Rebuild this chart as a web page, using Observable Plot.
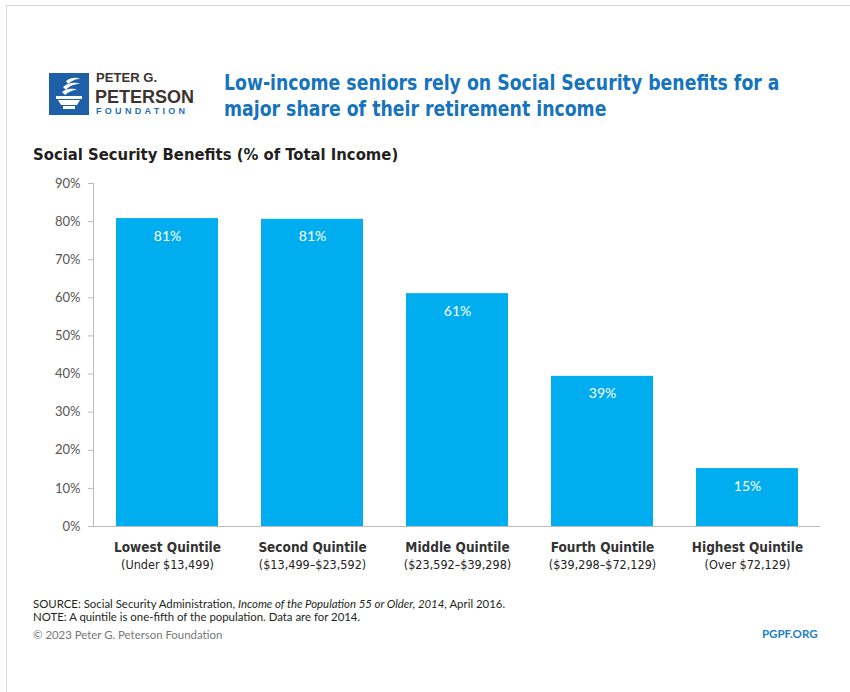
<!DOCTYPE html>
<html>
<head>
<meta charset="utf-8">
<script src="https://cdn.jsdelivr.net/npm/d3@7"></script>
<script src="https://cdn.jsdelivr.net/npm/@observablehq/plot@0.6"></script>
<style>
  html, body { margin: 0; padding: 0; background: #fff; }
  body { width: 850px; height: 692px; position: relative; overflow: hidden; }
  .frame { position: absolute; left: 6px; top: 5px; width: 860px; height: 700px; border-left: 1px solid #d8d8d8; border-top: 1px solid #d8d8d8; }
  .narrow { font-family: "Liberation Sans Narrow", "DejaVu Sans Condensed", sans-serif; }
  #logo { position: absolute; left: 49px; top: 73px; }
  .lt { position: absolute; font-family: "Liberation Sans", Arial, sans-serif; font-weight: bold; color: #3b3431; white-space: nowrap; line-height: 1; transform-origin: 0 0; }
  #title { position: absolute; left: 224px; top: 70px; font-size: 21.5px; line-height: 26px; font-weight: bold; color: #1673bd; white-space: nowrap; transform: scaleX(0.895); transform-origin: 0 0; }
  #subtitle { position: absolute; left: 33px; top: 145px; font-size: 16.5px; font-weight: bold; color: #231f20; white-space: nowrap; }
  #chart { position: absolute; left: 0; top: 170px; }
  .foot { position: absolute; left: 33px; font-family: Lato, "Open Sans", sans-serif; font-size: 11.4px; color: #231f20; white-space: nowrap; }
  #pgpf { position: absolute; left: 762px; top: 627px; font-family: Lato, sans-serif; font-weight: bold; font-size: 11.5px; color: #1b80c4; }
</style>
</head>
<body>
<div class="frame"></div>
<svg id="logo" width="40" height="42" viewBox="0 0 40 42">
  <rect x="0" y="0" width="40" height="42" fill="#1f5fa8"/>
  <path d="M17 8 C22 4 28 4 31 6 C26 6 22 8 19 11 Z" fill="#fff"/>
  <path d="M14 14 C20 9 27 9 31 11 C25 11 20 13 17 17 Z" fill="#fff"/>
  <path d="M13 19 C18 15 24 15 28 17 C23 17 19 19 16 22 Z" fill="#fff"/>
  <rect x="7" y="23" width="26" height="3" fill="#fff"/>
  <path d="M9 27 L31 27 L28 32 L12 32 Z" fill="#fff"/>
  <rect x="14" y="33" width="12" height="3" fill="#fff"/>
</svg>
<div class="lt" style="left:96px; top:71px; font-size:13.5px; transform: scaleX(0.97);">PETER G.</div>
<div class="lt" style="left:95px; top:88px; font-size:18px;">PETERSON</div>
<div class="lt" style="left:96px; top:107px; font-size:9px; letter-spacing:3.3px; color:#1f6fb8;">FOUNDATION</div>
<div id="title" class="narrow">Low-income seniors rely on Social Security benefits for a<br>major share of their retirement income</div>
<div id="subtitle" class="narrow">Social Security Benefits (% of Total Income)</div>
<div id="chart"></div>
<div class="foot" style="top:597px;">SOURCE: Social Security Administration, <i>Income of the Population 55 or Older, 2014</i>, April 2016.</div>
<div class="foot" style="top:610px;">NOTE: A quintile is one-fifth of the population. Data are for 2014.</div>
<div class="foot" style="top:628px; color:#777;">© 2023 Peter G. Peterson Foundation</div>
<div id="pgpf">PGPF.ORG</div>
<script>
const quintiles = ["Lowest Quintile", "Second Quintile", "Middle Quintile", "Fourth Quintile", "Highest Quintile"];
const ranges = ["(Under $13,499)", "($13,499–$23,592)", "($23,592–$39,298)", "($39,298–$72,129)", "(Over $72,129)"];
const shares = [80.8, 80.6, 61.1, 39.4, 15.2];
const shareLabels = ["81%", "81%", "61%", "39%", "15%"];
const yTicks = [0, 10, 20, 30, 40, 50, 60, 70, 80, 90];

const data = quintiles.map((q, i) => ({q, range: ranges[i], v: shares[i], label: shareLabels[i]}));
const narrow = '"Liberation Sans Narrow", "DejaVu Sans Condensed", sans-serif';

const chart = Plot.plot({
  width: 850,
  height: 420,
  marginLeft: 93,
  marginRight: 30,
  marginTop: 13,
  marginBottom: 64,
  style: {fontFamily: "Lato, 'Open Sans', sans-serif", background: "transparent"},
  x: {domain: quintiles, paddingInner: 0.3, paddingOuter: 0.15, axis: null},
  y: {domain: [0, 90], ticks: yTicks, label: null},
  marks: [
    Plot.axisY({ticks: yTicks, tickFormat: d => d + "%", tickSize: 5, tickPadding: 8, fontSize: 13, color: "#555", stroke: "#bbb", label: null}),
    Plot.frame({anchor: "left", stroke: "#bbb"}),
    Plot.barY(data, {x: "q", y: "v", fill: "#00aeef"}),
    Plot.ruleY([0], {stroke: "#bbb"}),
    Plot.text(data, {x: "q", y: "v", text: "label", fill: "#fff", fontSize: 14, lineAnchor: "top", dy: 12}),
    Plot.text(data, {x: "q", text: "q", frameAnchor: "bottom", lineAnchor: "top", dy: 16, fontSize: 13.5, fontWeight: "bold", fill: "#333", fontFamily: narrow}),
    Plot.text(data, {x: "q", text: "range", frameAnchor: "bottom", lineAnchor: "top", dy: 34, fontSize: 12.5, fill: "#222", fontFamily: narrow})
  ]
});
document.getElementById("chart").appendChild(chart);
</script>
</body>
</html>
